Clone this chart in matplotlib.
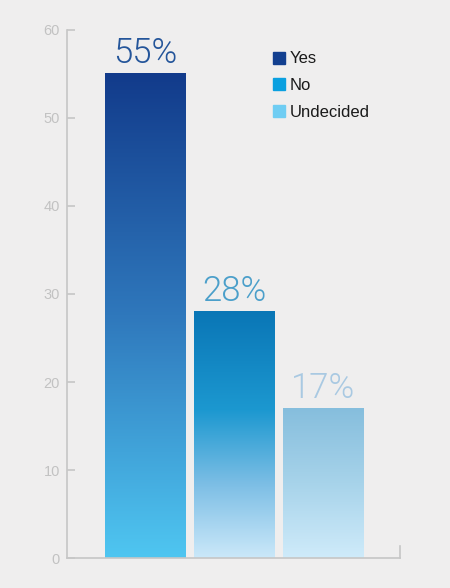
import numpy as np
import matplotlib
matplotlib.use("Agg")
from matplotlib import pyplot as plt
from matplotlib.colors import LinearSegmentedColormap
from matplotlib.lines import Line2D

categories = ["Yes", "No", "Undecided"]
values = [55, 28, 17]
labels = ["55%", "28%", "17%"]
yticks = [0, 10, 20, 30, 40, 50, 60]

# gradient colour stops, bottom -> top
grads = [[(0.0, "#4fc6f1"), (0.5, "#2f78bc"), (1.0, "#123b8b")],
         [(0.0, "#cbe8f9"), (0.3, "#7cbee5"), (0.6, "#1c98d0"), (1.0, "#0a76b6")],
         [(0.0, "#cfebfa"), (0.5, "#a7d3ea"), (1.0, "#86bedd")]]
legend_colors = ["#123f8f", "#0aa0e0", "#6fcdf3"]
label_colors = ["#24559a", "#4b9fca", "#a9c9e2"]

bg = "#efeeee"
fig = plt.figure(figsize=(4.5, 5.88), dpi=100, facecolor=bg)
ax = fig.add_axes([0.149, 0.051, 0.74, 0.898], facecolor=bg)

width = 0.9
x = np.arange(len(values))
for i, v in enumerate(values):
    cmap = LinearSegmentedColormap.from_list("g%d" % i, grads[i])
    grad = np.linspace(0, 1, 256).reshape(-1, 1)
    ax.imshow(grad, cmap=cmap, origin="lower", aspect="auto",
              extent=(x[i] - width / 2, x[i] + width / 2, 0, v), zorder=2)
    ax.text(x[i], v + 0.4, labels[i], ha="center", va="bottom",
            fontsize=25, color=label_colors[i], family="Roboto", fontweight=300)

ax.set_xlim(-0.876, 2.865)
ax.set_ylim(0, 60)
ax.set_yticks(yticks)
ax.set_xticks([])
ax.spines["top"].set_visible(False)
ax.spines["right"].set_bounds(0, 1.4)
for s in ["left", "bottom", "right"]:
    ax.spines[s].set_color("#c6c6c6")
    ax.spines[s].set_linewidth(1.2)
ax.tick_params(axis="y", direction="in", length=6, width=1.2, color="#c6c6c6",
               labelcolor="#c2c2c2", labelsize=10.5, pad=5)
for t in ax.get_yticklabels():
    t.set_family("Liberation Sans")

handles = [Line2D([], [], marker="s", linestyle="none", markersize=8,
                  color=c) for c in legend_colors]
leg = ax.legend(handles, categories, loc="upper left", bbox_to_anchor=(0.567, 0.972),
                frameon=False, prop={"family": "Liberation Sans", "size": 12},
                handletextpad=-0.35, labelspacing=0.7, borderaxespad=0)
for t in leg.get_texts():
    t.set_color("#1a1a1a")

fig.savefig("out.png", dpi=100, facecolor=bg)
